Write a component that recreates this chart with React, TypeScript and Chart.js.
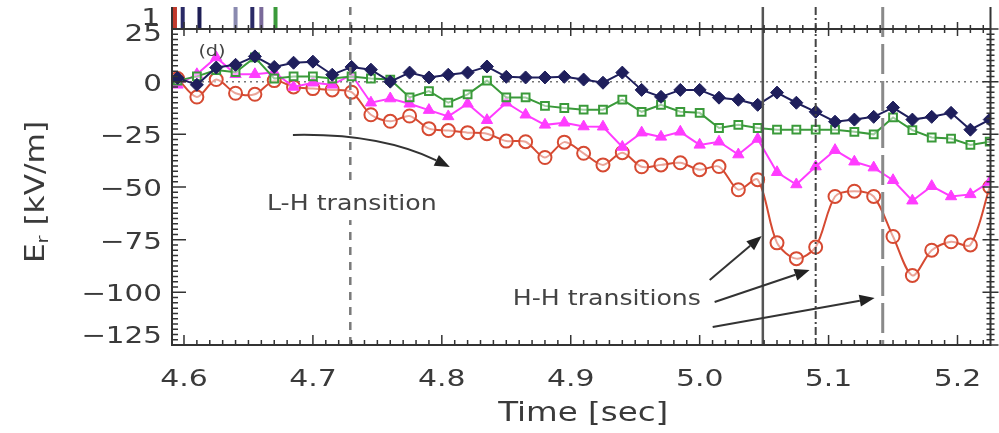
import React, { useEffect, useRef } from "react";
import { Chart, registerables } from "chart.js";
Chart.register(...registerables);

// ---------- data ----------
const times = [
  4.595, 4.61, 4.625, 4.64, 4.655, 4.67, 4.685, 4.7, 4.715, 4.73, 4.745, 4.76, 4.775, 4.79, 4.805,
  4.82, 4.835, 4.85, 4.865, 4.88, 4.895, 4.91, 4.925, 4.94, 4.955, 4.97, 4.985, 5.0, 5.015, 5.03,
  5.045, 5.06, 5.075, 5.09, 5.105, 5.12, 5.135, 5.15, 5.165, 5.18, 5.195, 5.21, 5.225,
];
const navyEr = [
  1.8, -1.5, 6.7, 8, 12, 7, 9, 9.5, 3.3, 7, 5.7, 0, 4.3, 2, 3.3, 4.3, 7.2, 2.3, 2, 2, 2.3, 1, -0.5,
  4.3, -3.9, -7.2, -3.9, -3.9, -7.6, -8.6, -11, -5.2, -10, -14.3, -19, -18, -16.7, -12.3, -18, -16.7,
  -14.8, -22.8, -18,
];
const greenEr = [
  0.5, 2.5, 5.5, 4.5, 11.5, 1.5, 2.5, 2.5, 1.5, 2.5, 1.5, 1, -7.5, -4.5, -10, -6, 0.5, -7.5, -7.5,
  -11.5, -12.5, -13.3, -13.3, -8.5, -14.3, -11, -14.3, -14.8, -22, -20.5, -22, -22.8, -22.8, -22.8,
  -22.8, -23.8, -25, -17, -23, -26.5, -27, -30, -28.5,
];
const magentaEr = [
  -1.5, 3.5, 11.5, 3.5, 3.5, 4.5, -2.5, -0.5, -1.5, 3.3, -10, -8, -10.5, -13.5, -16.5, -10.5, -18.3,
  -10, -15.7, -20.5, -19.5, -21.3, -21.4, -31, -24.2, -26.2, -23.8, -30, -28.5, -34.6, -27.2, -43,
  -48.8, -40.3, -32.5, -38, -40.8, -46.8, -56.5, -49.6, -54.5, -53.5, -47.6,
];
const redEr = [
  1.5, -7.3, 1, -5.5, -6, 0.5, -2.5, -3.3, -3.9, -5, -15.7, -18.8, -16.3, -22.3, -23.2, -24.2, -24.7,
  -28.2, -28.5, -36, -28.7, -34, -39.5, -33.7, -40.4, -39.5, -38.5, -41.8, -40.3, -51.3, -46.5,
  -76.5, -84, -78.5, -54.5, -52, -54.5, -73.5, -92, -80, -76, -77.5, -50,
];
const xTickValues = [4.6, 4.7, 4.8, 4.9, 5.0, 5.1, 5.2];
const xTickLabels = ["4.6", "4.7", "4.8", "4.9", "5.0", "5.1", "5.2"];
const yTickValues = [25, 0, -25, -50, -75, -100, -125];
const yTickLabels = ["25", "0", "\u221225", "\u221250", "\u221275", "\u2212100", "\u2212125"];
const transitionTimes = [4.729, 5.049, 5.09, 5.142];
const upperPanelTimes = [4.593, 4.599, 4.612, 4.64, 4.653, 4.66, 4.671];

// ---------- styles / layout ----------
const FONT = '"DejaVu Sans", sans-serif';
const TEXT = "#3a3a3a";
const X_MIN = 4.5907;
const X_MAX = 5.2256;
const Y_MIN = -125;
const Y_MAX = 25;
const transitionStyles = [
  { dash: [8, 7], width: 2.5, color: "#7a7a7a" },
  { dash: [], width: 2.5, color: "#555" },
  { dash: [8, 3, 2, 3], width: 2, color: "#444" },
  { dash: [30, 7], width: 3, color: "#8a8a8a" },
];
const upperPanelColors = ["#c0392b", "#2a2a66", "#1e1e55", "#8a8ab0", "#2a2a66", "#7a6a9a", "#3a9a3a"];
const arrows = [
  { from: [4.6845, -25.3], ctrl: [4.7519, -24.4], to: [4.8062, -40.5] },
  { from: [5.0078, -94.1], to: [5.0481, -73.3] },
  { from: [5.0116, -104.6], to: [5.0853, -89.4] },
  { from: [5.0101, -116.5], to: [5.1357, -102.7] },
];
const labels = [
  { text: "L-H transition", at: [4.7302, -58.1], size: 21, bg: true },
  { text: "H-H transitions", at: [4.928, -103.2], size: 21, bg: false },
  { text: "(d)", at: [4.6217, 14.1], size: 16, bg: false },
];

function drawText(
  ctx: CanvasRenderingContext2D,
  text: string,
  x: number,
  y: number,
  size: number,
  align: CanvasTextAlign,
  sx = 1.2,
  rotate = false,
  color = TEXT
) {
  ctx.save();
  ctx.translate(x, y);
  if (rotate) ctx.rotate(-Math.PI / 2);
  ctx.scale(sx, 1);
  ctx.font = `${size}px ${FONT}`;
  ctx.fillStyle = color;
  ctx.textAlign = align;
  ctx.textBaseline = "middle";
  ctx.fillText(text, 0, 0);
  ctx.restore();
}

const decor = {
  id: "decor",
  beforeDatasetsDraw(chart: any) {
    const { ctx, chartArea: a, scales } = chart;
    const y0 = scales.y.getPixelForValue(0);
    ctx.save();
    ctx.strokeStyle = "#777";
    ctx.lineWidth = 1.5;
    ctx.setLineDash([2, 4]);
    ctx.beginPath();
    ctx.moveTo(a.left, y0);
    ctx.lineTo(a.right, y0);
    ctx.stroke();
    ctx.restore();
  },
  afterDatasetsDraw(chart: any) {
    const { ctx, chartArea: a, scales } = chart;
    const xs = scales.x;
    const ys = scales.y;
    const topY = 7;
    ctx.save();

    // upper panel remnants
    upperPanelTimes.forEach((t, i) => {
      const px = xs.getPixelForValue(t);
      ctx.strokeStyle = upperPanelColors[i];
      ctx.lineWidth = 4;
      ctx.beginPath();
      ctx.moveTo(px, topY);
      ctx.lineTo(px, a.top - 1);
      ctx.stroke();
    });

    // transition lines
    transitionTimes.forEach((t, i) => {
      const s = transitionStyles[i];
      const px = xs.getPixelForValue(t);
      ctx.strokeStyle = s.color;
      ctx.lineWidth = s.width;
      ctx.setLineDash(s.dash);
      ctx.beginPath();
      ctx.moveTo(px, topY);
      ctx.lineTo(px, a.bottom);
      ctx.stroke();
    });
    ctx.setLineDash([]);

    // text labels (white background where needed)
    labels.forEach((l) => {
      const px = xs.getPixelForValue(l.at[0]);
      const py = ys.getPixelForValue(l.at[1]);
      if (l.bg) {
        ctx.font = `${l.size}px ${FONT}`;
        const w = ctx.measureText(l.text).width * 1.2;
        ctx.fillStyle = "#fff";
        ctx.fillRect(px - w / 2 - 4, py - 18, w + 8, 34);
      }
      drawText(ctx, l.text, px, py, l.size, "center", 1.2, false, "#444");
    });

    // arrows
    ctx.strokeStyle = "#333";
    ctx.fillStyle = "#222";
    ctx.lineWidth = 2;
    arrows.forEach((ar: any) => {
      const p0 = [xs.getPixelForValue(ar.from[0]), ys.getPixelForValue(ar.from[1])];
      const p2 = [xs.getPixelForValue(ar.to[0]), ys.getPixelForValue(ar.to[1])];
      const c = ar.ctrl ? [xs.getPixelForValue(ar.ctrl[0]), ys.getPixelForValue(ar.ctrl[1])] : p0;
      const dx = p2[0] - c[0];
      const dy = p2[1] - c[1];
      const len = Math.hypot(dx, dy);
      const ux = dx / len;
      const uy = dy / len;
      const hl = 15;
      const hw = 6;
      const bx = p2[0] - ux * hl;
      const by = p2[1] - uy * hl;
      ctx.beginPath();
      ctx.moveTo(p0[0], p0[1]);
      if (ar.ctrl) ctx.quadraticCurveTo(c[0], c[1], bx, by);
      else ctx.lineTo(bx, by);
      ctx.stroke();
      ctx.beginPath();
      ctx.moveTo(p2[0], p2[1]);
      ctx.lineTo(bx - uy * hw, by + ux * hw);
      ctx.lineTo(bx + uy * hw, by - ux * hw);
      ctx.closePath();
      ctx.fill();
    });

    // frame
    ctx.strokeStyle = "#333";
    ctx.lineWidth = 2;
    ctx.beginPath();
    ctx.moveTo(a.left, topY);
    ctx.lineTo(a.left, a.bottom);
    ctx.lineTo(a.right, a.bottom);
    ctx.lineTo(a.right, topY);
    ctx.moveTo(a.left, a.top);
    ctx.lineTo(a.right, a.top);
    ctx.stroke();

    // x ticks
    ctx.lineWidth = 1.5;
    ctx.beginPath();
    for (let k = 0; k <= 70; k++) {
      const v = 4.59 + k * 0.01;
      if (v < X_MIN - 1e-6 || v > X_MAX + 1e-6) continue;
      const px = xs.getPixelForValue(v);
      const major = Math.abs(Math.round(v * 10) - v * 10) < 1e-6;
      const lb = major ? 10 : 5;
      const lt = major ? 7 : 4;
      ctx.moveTo(px, a.bottom);
      ctx.lineTo(px, a.bottom - lb);
      ctx.moveTo(px, a.top - lt);
      ctx.lineTo(px, a.top + lt);
    }
    // y ticks
    for (let k = 0; k <= 60; k++) {
      const v = Y_MIN + k * 2.5;
      const py = ys.getPixelForValue(v);
      const major = k % 10 === 0;
      const ll = major ? 14 : 6;
      const lr = major ? 8 : 4;
      ctx.moveTo(a.left, py);
      ctx.lineTo(a.left + ll, py);
      ctx.moveTo(a.right - lr, py);
      ctx.lineTo(a.right + lr, py);
    }
    ctx.stroke();

    // tick labels
    xTickValues.forEach((v, i) => {
      drawText(ctx, xTickLabels[i], xs.getPixelForValue(v), 380, 23, "center", 1.3);
    });
    yTickValues.forEach((v, i) => {
      let py = ys.getPixelForValue(v) + 3;
      py = Math.max(a.top + 6, Math.min(a.bottom - 8, py));
      drawText(ctx, yTickLabels[i], 162, py, 23, "right", 1.28);
    });
    drawText(ctx, "1", 160, 19, 23, "right", 1.28);

    // axis titles
    drawText(ctx, "Time [sec]", (a.left + a.right) / 2 + 2, 414, 26, "center", 1.25);
    // y title: E_r [kV/m], rotated
    ctx.save();
    ctx.translate(37, 192);
    ctx.rotate(-Math.PI / 2);
    ctx.scale(1.2, 1);
    ctx.fillStyle = TEXT;
    ctx.textBaseline = "middle";
    ctx.textAlign = "left";
    ctx.font = `26px ${FONT}`;
    const wE = ctx.measureText("E").width;
    const wRest = ctx.measureText(" [kV/m]").width;
    ctx.font = `16px ${FONT}`;
    const wr = ctx.measureText("r").width;
    const total = wE + wr + wRest;
    let cx = -total / 2;
    ctx.font = `26px ${FONT}`;
    ctx.fillText("E", cx, 0);
    cx += wE;
    ctx.font = `16px ${FONT}`;
    ctx.fillText("r", cx, 7);
    cx += wr;
    ctx.font = `26px ${FONT}`;
    ctx.fillText(" [kV/m]", cx, 0);
    ctx.restore();

    ctx.restore();
  },
};

function pts(vals: number[]) {
  return times.map((t, i) => ({ x: t, y: vals[i] }));
}

export default function App() {
  const ref = useRef<HTMLCanvasElement | null>(null);
  useEffect(() => {
    if (!ref.current) return;
    const chart = new Chart(ref.current, {
      type: "line",
      data: {
        datasets: [
          {
            data: pts(navyEr),
            borderColor: "#1f1f5c",
            backgroundColor: "#1f1f5c",
            pointBackgroundColor: "#1f1f5c",
            pointBorderColor: "#1f1f5c",
            pointStyle: "rectRot",
            pointRadius: 6.5,
            pointBorderWidth: 1,
            borderWidth: 2,
            order: 0,
          },
          {
            data: pts(greenEr),
            borderColor: "#3a9a3a",
            pointBackgroundColor: "rgba(255,255,255,0.5)",
            pointBorderColor: "#3a9a3a",
            pointStyle: "rect",
            pointRadius: 5.5,
            pointBorderWidth: 2,
            borderWidth: 2,
            order: 1,
          },
          {
            data: pts(magentaEr),
            borderColor: "#ff3cff",
            backgroundColor: "#ff3cff",
            pointBackgroundColor: "#ff3cff",
            pointBorderColor: "#ff3cff",
            pointStyle: "triangle",
            pointRadius: 6.5,
            pointBorderWidth: 1,
            borderWidth: 2,
            order: 2,
          },
          {
            data: pts(redEr),
            borderColor: "#d64a32",
            pointBackgroundColor: "rgba(255,255,255,0.5)",
            pointBorderColor: "#d64a32",
            pointStyle: "circle",
            pointRadius: 6.5,
            pointBorderWidth: 2,
            borderWidth: 2,
            tension: 0.3,
            order: 3,
          },
        ],
      },
      options: {
        responsive: false,
        animation: false,
        events: [],
        layout: { padding: { left: 172, top: 29, right: 8, bottom: 88 } },
        plugins: { legend: { display: false }, tooltip: { enabled: false } },
        scales: {
          x: { type: "linear", min: X_MIN, max: X_MAX, display: false },
          y: { type: "linear", min: Y_MIN, max: Y_MAX, display: false },
        },
      },
      plugins: [decor],
    });
    return () => chart.destroy();
  }, []);
  return (
    <div style={{ position: "absolute", left: 0, top: 0, width: 999, height: 433, background: "#fff" }}>
      <canvas ref={ref} width={999} height={433} style={{ display: "block" }} />
    </div>
  );
}
